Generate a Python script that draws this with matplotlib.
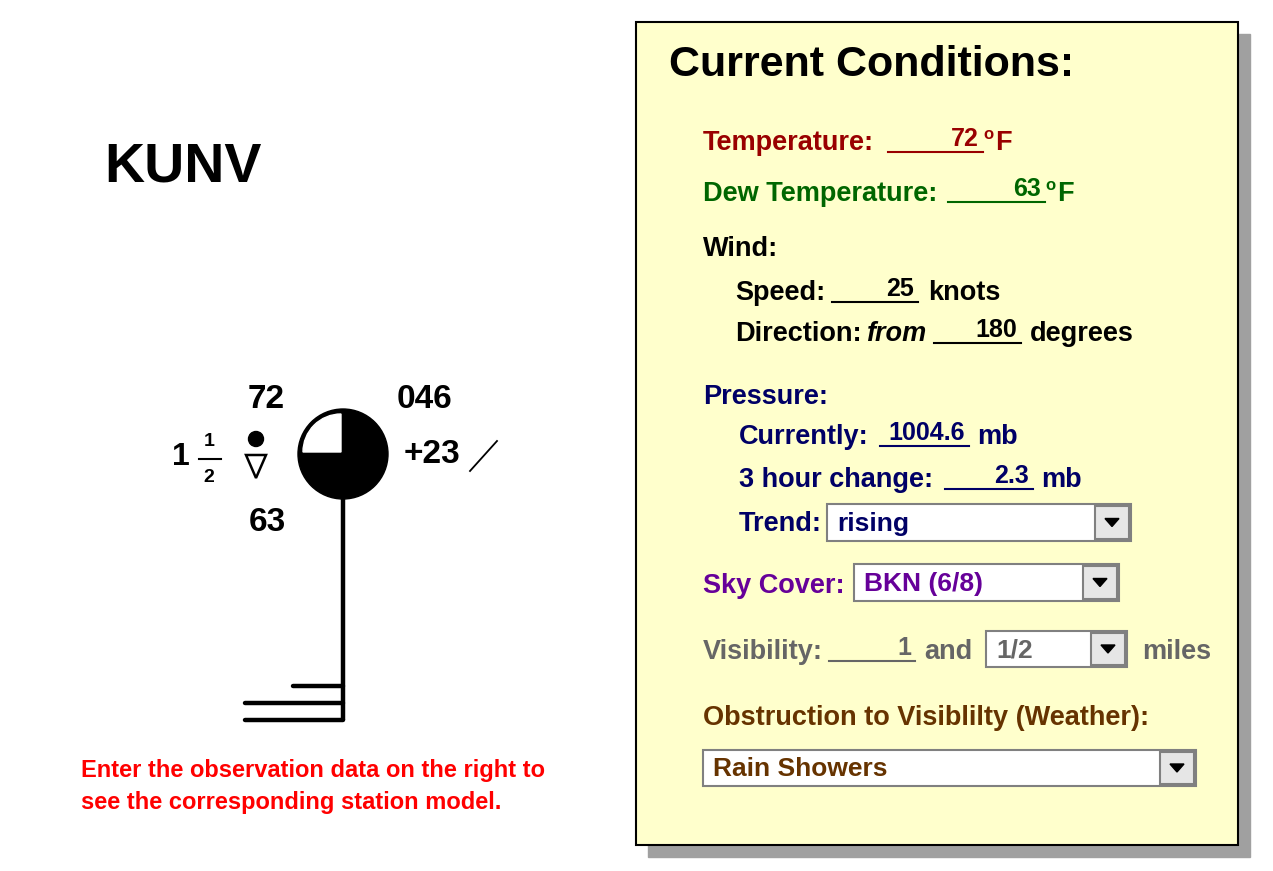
import matplotlib.pyplot as plt
from matplotlib.patches import Rectangle, Circle, Wedge, Polygon

plt.rcParams['font.family'] = ['Liberation Sans', 'DejaVu Sans']

# Observation values
station = "KUNV"
temperature = 72
dew_point = 63
wind_speed = 25
wind_dir = 180
pressure = 1004.6
pressure_code = "046"
pressure_change = 2.3
tendency_code = "+23"
trend = "rising"
sky_cover = "BKN (6/8)"
vis_whole = 1
vis_frac = "1/2"
weather = "Rain Showers"

fig = plt.figure(figsize=(12.73, 8.71), dpi=100)
ax = fig.add_axes([0, 0, 1, 1])
ax.set_xlim(0, 1273)
ax.set_ylim(871, 0)
ax.axis('off')

B = dict(fontweight='bold')

# ---- station model ----
ax.text(104, 168, station, fontsize=40, va='center', **B)
cx, cy, r = 343, 454, 45
ax.add_patch(Circle((cx, cy), r, color='black'))
# white upper-left quarter (y axis is inverted)
ax.add_patch(Wedge((cx - 2, cy - 2), r - 7, 180, 270, color='white'))
ax.plot([cx, cx], [cy + r, 720], color='black', lw=3.2, solid_capstyle='butt')
for y, x0 in [(720, 245), (703, 245), (686, 293)]:
    ax.plot([x0, cx], [y, y], color='black', lw=3.2, solid_capstyle='round')
ax.text(266, 399, str(temperature), fontsize=24, ha='center', va='center', **B)
ax.text(267, 522, str(dew_point), fontsize=24, ha='center', va='center', **B)
ax.text(424, 399, pressure_code, fontsize=24, ha='center', va='center', **B)
ax.text(432, 454, tendency_code, fontsize=24, ha='center', va='center', **B)
ax.plot([470, 497], [471, 441], color='black', lw=1.3)
ax.text(181, 457, str(vis_whole), fontsize=23, ha='center', va='center', **B)
ax.text(209, 441, "1", fontsize=14, ha='center', va='center', **B)
ax.plot([199, 221], [459, 459], color='black', lw=1.5)
ax.text(209, 477, "2", fontsize=14, ha='center', va='center', **B)
ax.add_patch(Circle((256, 439), 7.5, color='black'))
ax.add_patch(Polygon([[246, 455], [266, 455], [256, 478]], closed=True,
                     fill=False, ec='black', lw=1.8))
ax.text(81, 770, "Enter the observation data on the right to", fontsize=17,
        color='#ff0000', va='center', **B)
ax.text(81, 802, "see the corresponding station model.", fontsize=17,
        color='#ff0000', va='center', **B)

# ---- form panel ----
ax.add_patch(Rectangle((648, 34), 602, 823, color='#a0a0a0', zorder=0))
ax.add_patch(Rectangle((636, 22), 602, 823, fc='#ffffcc', ec='black', lw=1.5, zorder=1))
ax.text(669, 65, "Current Conditions:", fontsize=31, va='center', **B)


def blank(x0, x1, y, val, color, size=18):
    ax.plot([x0, x1], [y + 12, y + 12], color=color, lw=1.5)
    ax.text(x1 - 4, y - 1, val, fontsize=size, color=color, ha='right', va='center', **B)


def dropdown(x0, x1, y0, y1, val, color):
    ax.add_patch(Rectangle((x0, y0), x1 - x0, y1 - y0, fc='white', ec='#808080', lw=1.5, zorder=2))
    ax.add_patch(Rectangle((x1 - 36, y0 + 2), 34, y1 - y0 - 4, fc='#e6e6e6', ec='#808080', lw=1.5, zorder=3))
    mx, my = x1 - 19, (y0 + y1) / 2
    ax.add_patch(Polygon([[mx - 7, my - 4], [mx + 7, my - 4], [mx, my + 4]], color='black', zorder=4))
    ax.text(x0 + 10, my + 1, val, fontsize=19, color=color, va='center', zorder=4, **B)


red, green, navy, purple, grey, brown = '#990000', '#006600', '#000066', '#660099', '#666666', '#663300'
fs = 19.5
ax.text(703, 143, "Temperature:", fontsize=fs, color=red, va='center', **B)
blank(888, 983, 140, str(temperature), red)
ax.text(983, 142, "o", fontsize=12, color=red, va='bottom', **B)
ax.text(995, 143, "F", fontsize=fs, color=red, va='center', **B)

ax.text(703, 194, "Dew Temperature:", fontsize=fs, color=green, va='center', **B)
blank(948, 1045, 190, str(dew_point), green)
ax.text(1045, 193, "o", fontsize=12, color=green, va='bottom', **B)
ax.text(1057, 194, "F", fontsize=fs, color=green, va='center', **B)

ax.text(703, 249, "Wind:", fontsize=fs, va='center', **B)
ax.text(735, 293, "Speed:", fontsize=fs, va='center', **B)
blank(832, 918, 290, str(wind_speed), 'black')
ax.text(928, 293, "knots", fontsize=fs, va='center', **B)
ax.text(735, 334, "Direction:", fontsize=fs, va='center', **B)
ax.text(866, 334, "from", fontsize=fs, va='center', style='italic', **B)
blank(934, 1021, 331, str(wind_dir), 'black')
ax.text(1030, 334, "degrees", fontsize=fs, va='center', **B)

ax.text(703, 397, "Pressure:", fontsize=fs, color=navy, va='center', **B)
ax.text(739, 437, "Currently:", fontsize=fs, color=navy, va='center', **B)
blank(880, 969, 434, f"{pressure:.1f}", navy)
ax.text(977, 437, "mb", fontsize=fs, color=navy, va='center', **B)
ax.text(739, 480, "3 hour change:", fontsize=fs, color=navy, va='center', **B)
blank(945, 1033, 477, f"{pressure_change:.1f}", navy)
ax.text(1041, 480, "mb", fontsize=fs, color=navy, va='center', **B)
ax.text(739, 524, "Trend:", fontsize=fs, color=navy, va='center', **B)
dropdown(827, 1131, 504, 541, trend, navy)

ax.text(703, 586, "Sky Cover:", fontsize=fs, color=purple, va='center', **B)
dropdown(854, 1119, 564, 601, sky_cover, purple)

ax.text(703, 652, "Visibility:", fontsize=fs, color=grey, va='center', **B)
blank(829, 915, 649, str(vis_whole), grey)
ax.text(924, 652, "and", fontsize=fs, color=grey, va='center', **B)
dropdown(986, 1127, 631, 667, vis_frac, grey)
ax.text(1142, 652, "miles", fontsize=fs, color=grey, va='center', **B)

ax.text(703, 718, "Obstruction to Visiblilty (Weather):", fontsize=fs, color=brown, va='center', **B)
dropdown(703, 1196, 750, 786, weather, brown)

fig.savefig("out.png", dpi=100)
